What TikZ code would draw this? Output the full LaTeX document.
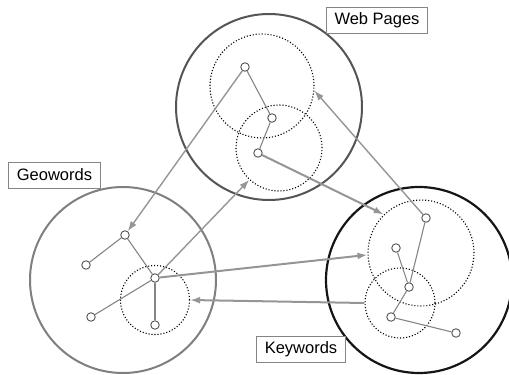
\documentclass[tikz,border=0pt]{standalone}
\usepackage{fontspec}
\setsansfont{Liberation Sans}
\usetikzlibrary{arrows.meta}
\definecolor{cweb}{HTML}{555555}
\definecolor{cgeo}{HTML}{7F7F7F}
\definecolor{ckey}{HTML}{151515}
\definecolor{cgrey}{HTML}{858585}
\definecolor{carrow}{HTML}{959595}
\tikzset{
  every picture/.style={font=\sffamily},
  area/.style={circle, draw=#1, line width=2pt, inner sep=0pt},
  cluster/.style={circle, draw=black, line width=1.1pt, dash pattern=on 1.1pt off 1.9pt, inner sep=0pt},
  item/.style={circle, draw=cweb, fill=white, line width=0.9pt, minimum size=8.5pt, inner sep=0pt},
  link/.style={draw=cgrey, line width=1.1pt},
  arrow/.style={-{Latex[length=10pt,width=7pt]}, draw=carrow, line width=2pt},
  thinarrow/.style={-{Latex[length=10pt,width=7pt]}, draw=carrow, line width=1.4pt},
  tag/.style={draw=cgrey, line width=0.8pt, fill=white, inner xsep=8pt, inner ysep=0pt, minimum height=26pt,
    font=\sffamily\fontsize{16.5pt}{19pt}\selectfont},
}

\begin{document}
\begin{tikzpicture}[x=1pt, y=-1pt]
  \useasboundingbox (0,0) rectangle (509,375);
  % the three areas
  \node[area=cweb, minimum size=186pt] (web) at (269,107) {};
  \node[area=cgeo, minimum size=186pt] (geo) at (123,280) {};
  \node[area=ckey, minimum size=186pt, line width=2.2pt] (key) at (419,280) {};
  % dotted clusters
  \node[cluster, minimum size=104pt] (webup) at (262,86) {};
  \node[cluster, minimum size=86pt] (weblo) at (279,148) {};
  \node[cluster, minimum size=69pt] (geodot) at (155,300) {};
  \node[cluster, minimum size=106pt] (keyup) at (421,253) {};
  \node[cluster, minimum size=70pt] (keylo) at (400,303) {};
  % items
  \foreach \n/\x/\y in {w1/245/67, w2/272/118, w3/258/153,
                        g1/125/235, g2/86/265, g3/155/278, g4/91/317, g5/155/325,
                        k1/426/218, k2/396/248, k3/409/287, k4/391/317, k5/456/333}
    \node[item] (\n) at (\x,\y) {};
  \foreach \a/\b in {w1/w2, w2/w3, g1/g2, g1/g3, g3/g4, g3/g5, k1/k3, k2/k3, k3/k4, k4/k5}
    \draw[link] (\a) -- (\b);
  % links between the areas
  \draw[thinarrow] (w1) -- (g1);
  \draw[thinarrow] (g3) -- (weblo.227);
  \draw[thinarrow] (k1) -- (webup.-5);
  \draw[arrow] (w3) -- (keyup.134);
  \draw[arrow] (g3) -- (keyup.182);
  \draw[arrow] (keylo.west) -- (geodot.east);
  % labels
  \node[tag] (webtag) at (377,20.5) {Web Pages};
  \node[tag] (geotag) at (54.5,175) {Geowords};
  \node[tag] (keytag) at (301,349.5) {Keywords};
\end{tikzpicture}
\end{document}
